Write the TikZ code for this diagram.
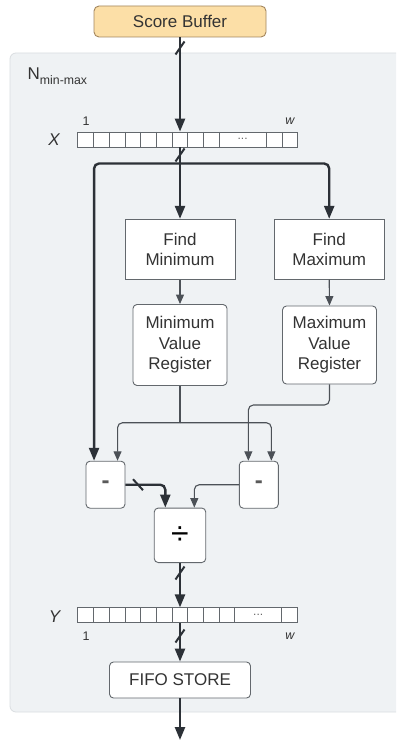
\documentclass[tikz,border=0pt]{standalone}
\usepackage{fontspec}
\setmainfont{Liberation Sans}
\usetikzlibrary{arrows.meta,calc}
\definecolor{panelfill}{HTML}{EFF2F4}
\definecolor{paneldraw}{HTML}{DADEE1}
\definecolor{bufferfill}{HTML}{FCDFA7}
\definecolor{bufferdraw}{HTML}{A3865E}
\definecolor{wirecol}{HTML}{2C3137}
\definecolor{thinwirecol}{HTML}{4C5157}
\definecolor{boxline}{HTML}{63686D}
\definecolor{textcol}{HTML}{333333}

\begin{document}
\begin{tikzpicture}[x=1pt,y=-1pt,
  labelfont/.style={font=\fontsize{17}{20.5}\selectfont},
  block/.style={draw=boxline, line width=0.9pt, fill=white, align=center,
    inner sep=0pt, labelfont, text=textcol},
  roundblock/.style={block, rounded corners=4pt},
  busarrow/.style={draw=wirecol, line width=2.4pt, rounded corners=5pt,
    -{Triangle[length=13pt,width=10pt]}},
  busline/.style={draw=wirecol, line width=2.4pt, rounded corners=5pt},
  wirearrow/.style={draw=thinwirecol, line width=1.1pt, rounded corners=5pt,
    -{Triangle[length=9.5pt,width=8pt]}},
  cellline/.style={draw=boxline, line width=0.6pt},
  arrayframe/.style={draw=boxline, fill=white, line width=0.8pt, inner sep=0pt},
  smalllabel/.style={font=\fontsize{12.5}{14}\selectfont, text=textcol, inner sep=0pt},
  dotslabel/.style={font=\fontsize{12}{12}\selectfont, text=black!60, inner sep=0pt},
  buswidth/.pic={\draw[draw=wirecol, line width=2pt] (-4.5,6.5) -- (4.5,-6.5);},
  buswidthh/.pic={\draw[draw=wirecol, line width=2pt] (-5,-5.5) -- (5,5.5);}
]
\clip (0,0) rectangle (396,743);
\fill[white] (0,0) rectangle (396,743);

% enclosing module panel
\draw[fill=panelfill, draw=paneldraw, line width=0.8pt, rounded corners=6pt]
  (10,53) rectangle (420,712);
\node[anchor=base west, inner sep=0pt, text=textcol,
  font=\fontsize{17}{20}\selectfont] (nlabel) at (27.5,80)
  {N\raisebox{-5pt}{\fontsize{12.3}{14}\selectfont min-max}};

% source buffer
\node[block, fill=bufferfill, draw=bufferdraw, rounded corners=5pt,
  minimum width=172pt, minimum height=31pt] (sb) at (180,21.5) {Score Buffer};

% input vector X
\node[arrayframe, minimum width=220pt, minimum height=15pt] (xarr) at (187.7,139.5) {};
\foreach \x in {93.4,109.1,124.8,140.5,156.2,171.9,187.6,203.3,219.0,266.3,282.0}
  \draw[cellline] (\x,132) -- (\x,147);
\node[dotslabel] (xdots) at (242.6,139) {...};
\node[labelfont, font=\fontsize{17}{20}\selectfont\itshape, text=textcol, inner sep=0pt]
  (xname) at (54,140) {X};
\node[smalllabel] (xone) at (86,121) {1};
\node[smalllabel, font=\fontsize{12.5}{14}\selectfont\itshape] (xw) at (290,121) {w};

% min / max search
\node[block, minimum width=110pt, minimum height=60pt] (findmin) at (180,249.3) {Find\\Minimum};
\node[block, minimum width=110pt, minimum height=60pt] (findmax) at (329.2,249.3) {Find\\Maximum};
\node[roundblock, minimum width=94pt, minimum height=81pt] (minreg) at (180,345)
  {Minimum\\Value\\Register};
\node[roundblock, minimum width=94pt, minimum height=78pt] (maxreg) at (329.5,345)
  {Maximum\\Value\\Register};

% subtractors and divider
\node[roundblock, minimum width=39pt, minimum height=47pt] (subL) at (105.5,484.7)
  {\color{black!65}\fontsize{24}{24}\selectfont\textbf{-}};
\node[roundblock, minimum width=39pt, minimum height=47pt] (subR) at (258.8,484.7)
  {\color{black!65}\fontsize{24}{24}\selectfont\textbf{-}};
\node[roundblock, minimum width=51.5pt, minimum height=54.5pt] (divd) at (180,535.3)
  {\color{black}\fontsize{32}{32}\selectfont ÷};

% output vector Y
\node[arrayframe, minimum width=220pt, minimum height=15pt] (yarr) at (187.7,615.3) {};
\foreach \x in {93.4,109.1,124.8,140.5,156.2,171.9,187.6,203.3,219.0,234.7,281.6}
  \draw[cellline] (\x,607.8) -- (\x,622.8);
\node[dotslabel] (ydots) at (258.2,614.8) {...};
\node[font=\fontsize{17}{20}\selectfont\itshape, text=textcol, inner sep=0pt]
  (yname) at (54.5,617) {Y};
\node[smalllabel] (yone) at (86,636) {1};
\node[smalllabel, font=\fontsize{12.5}{14}\selectfont\itshape] (yw) at (290,636) {w};

% output store
\node[roundblock, minimum width=141pt, minimum height=36pt] (fifo) at (180,680) {FIFO STORE};

% helper points
\coordinate (split) at (180,163.5);
\coordinate (subLin) at ($(subL.north west)+(8.5,0)$);
\coordinate (subLin2) at ($(subL.north west)+(32,0)$);
\coordinate (subRin) at ($(subR.north west)+(9.5,0)$);
\coordinate (subRin2) at ($(subR.north west)+(32.5,0)$);
\coordinate (minsplit) at (180,422.7);
\coordinate (maxturn) at (329.5,405);
\coordinate (divinL) at ($(divd.north west)+(11.5,0)$);
\coordinate (divinR) at ($(divd.north west)+(40.5,0)$);
\coordinate (outend) at (180,740);

% data-path connectors
\draw[busarrow] (sb.south) -- (sb.south |- xarr.north);
\pic at (180,48) {buswidth};
\draw[busline] (xarr.south -| split) -- (split);
\pic at (180,155) {buswidth};
\draw[busarrow] (split) -- (findmin.north);
\draw[busarrow] (split) -| (findmax.north);
\draw[busarrow] (split) -| (subLin);

\draw[wirearrow] (findmin.south) -- (minreg.north);
\draw[wirearrow] (findmax.south) -- (maxreg.north);

\draw[draw=thinwirecol, line width=1.1pt] (minreg.south) -- (minsplit);
\draw[wirearrow] (minsplit) -| (subLin2);
\draw[wirearrow] (minsplit) -| (subRin2);
\draw[wirearrow] (maxreg.south) -- (maxturn) -| (subRin);

\draw[busarrow] (subL.east) -| (divinL);
\pic at (138,484.7) {buswidthh};
\draw[wirearrow] (subR.west) -| (divinR);

\draw[busarrow] (divd.south) -- (divd.south |- yarr.north);
\pic at (180,573) {buswidth};
\draw[busarrow] (yarr.south -| fifo.north) -- (fifo.north);
\pic at (180,636) {buswidth};
\draw[busarrow] (fifo.south) -- (outend);
\end{tikzpicture}
\end{document}
